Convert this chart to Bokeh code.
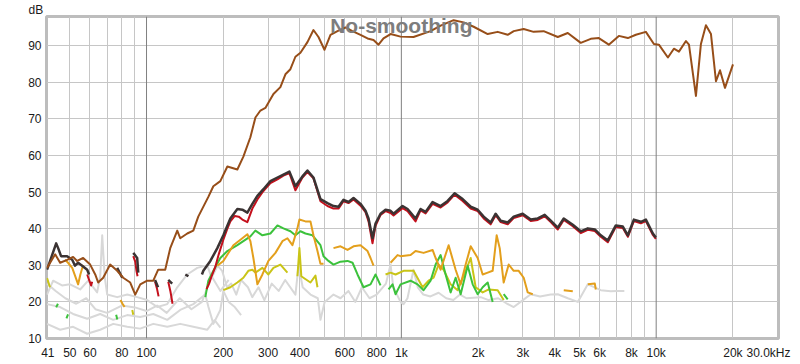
from bokeh.plotting import figure
from bokeh.models import FixedTicker, Span, Label
from bokeh.embed import file_html
from bokeh.resources import INLINE

nan = float("nan")

# ---- tick labels ----
x_ticks = [41, 50, 60, 80, 100, 200, 300, 400, 600, 800, 1000, 2000, 3000, 4000,
           5000, 6000, 8000, 10000, 20000, 30000]
x_tick_labels = ["41", "50", "60", "80", "100", "200", "300", "400", "600", "800", "1k",
                 "2k", "3k", "4k", "5k", "6k", "8k", "10k", "20k", "30.0kHz"]
x_grid = [50, 60, 70, 80, 90, 200, 300, 400, 500, 600, 700, 800, 900, 2000, 3000, 4000,
          5000, 6000, 7000, 8000, 9000, 20000]
x_decades = [100, 1000, 10000]
y_ticks = [10, 20, 30, 40, 50, 60, 70, 80, 90]

# ---- series: (frequency Hz, level dB) ----
fundamental = [
    (40.7, 29.3), (43.8, 33), (45.8, 30.7), (48.8, 31.5), (51.5, 32.3), (53.4, 31.2), (56.4, 32),
    (60.1, 30.2), (62.9, 27.5), (64.6, 25.3), (67.6, 26.6), (72.0, 30.2), (76.7, 28.5), (81.0, 26.6),
    (86.3, 25.3), (90.3, 22), (94.5, 24.8), (100.6, 25.8), (106.3, 25.8), (111.1, 28.8), (118.4, 28.8),
    (123.9, 34.7), (132, 39.5), (135.6, 37.4), (144.5, 38.7), (152.6, 39.5), (159.6, 43.3), (174.8, 48.7),
    (182.9, 51.6), (194.8, 53), (207.6, 57), (227.2, 56.2), (239.9, 59.7), (255.6, 65), (267.5, 70.4),
    (279.9, 72.3), (292.7, 73), (314.8, 76.8), (335.2, 78.7), (350.8, 82.2), (366.9, 83.6), (383.9, 87),
    (401.8, 88.1), (428, 91), (451.9, 94.3), (472.9, 92.4), (499.2, 88.9), (527.1, 93), (561.4, 94),
    (603.6, 95), (642.7, 94), (691.3, 93), (736.7, 92), (777.6, 91.6), (813.6, 90.3), (851.1, 92),
    (907, 93.2), (992.6, 92.5), (1116, 92.4), (1302, 94), (1426, 95.5), (1604, 97), (1756, 96.4),
    (1922, 95.2), (2182, 93.2), (2388, 93.8), (2614, 93), (2761, 94), (3020, 94.6), (3304, 93.8),
    (3617, 94), (4110, 92.4), (4498, 93.5), (5058, 90.8), (5538, 91.9), (5956, 92.1), (6518, 90.3),
    (7136, 92.7), (7742, 92.1), (8322, 93), (9111, 93.8), (9795, 90.5), (10247, 90.3), (11117, 86.8),
    (11735, 89.2), (12283, 88.4), (13087, 91.3), (13448, 90.3), (14322, 76.3), (14983, 90.5),
    (15676, 95.6), (16406, 93.2), (17164, 80.3), (17801, 83.3), (18621, 78.5), (19306, 81.7), (20016, 84.9),
]

thd = [
    (40.7, 28.8), (42.6, 32.8), (44.2, 36), (45.0, 34.7), (46.2, 32.5), (48.8, 32.5), (51.1, 31.5),
    (52.4, 29.9), (53.9, 30.7), (55.9, 29.9), (58.5, 28.8), (59.5, 27.5), (65, nan), (76.7, 29.3),
    (80.3, 26.6), (84, nan), (88.7, 33.4), (91.9, 32), (92.8, 28), (100, nan), (108, 26), (111, 24),
    (115, nan), (121.7, 26), (126.1, 25), (135, nan), (142, 27.5), (146, 27), (155, nan), (165, 27.5),
    (167.1, 28.5), (178, 31.2), (189.6, 34.7), (200.2, 38.2), (213.3, 42.8), (227.2, 45.4), (237.7, 45.2),
    (248.7, 44.4), (260.2, 46.8), (272.3, 49), (287.5, 50.8), (306.3, 53), (326.4, 54), (344.5, 54.8),
    (363.7, 55.6), (384, 51.6), (409.1, 54.3), (428, 55.9), (451.9, 54), (481.5, 48.1), (512.9, 47),
    (541.6, 46.2), (566.6, 46), (592.9, 47.9), (620.4, 47.3), (649.1, 48.4), (691.4, 46.8), (723.4, 44.9),
    (743.4, 42.8), (770.6, 37.4), (791.8, 41.4), (828.5, 44.1), (866.8, 45.2), (907, 44.9), (932, 44.1),
    (1010.9, 46.2), (1057.7, 45.4), (1137, 42.8), (1189.5, 45.4), (1244.6, 44.6), (1326.1, 47.3),
    (1425.6, 46.2), (1519, 47.6), (1618, 49.7), (1740, 48.1), (1871, 46), (1993, 45.2), (2104, 43.3),
    (2241, 41.7), (2345, 44.1), (2454, 42.2), (2614, 41.7), (2760, 43.3), (2994, 44.1), (3219, 42.5),
    (3429, 42.8), (3652, 43.8), (3857, 42.2), (4110, 40.3), (4338, 42.8), (4707, 41.1), (5058, 39.3),
    (5391, 40.1), (5743, 39.8), (6063, 38.2), (6459, 36.8), (6945, 40.9), (7399, 40.6), (7742, 38.2),
    (8172, 42.5), (8709, 41.9), (9111, 42.5), (9705, 38.7), (9972, 37.6),
]

h2 = [
    (58.5, 27.5), (59.5, 26), (60.6, 24.5), (61.2, 25.5), (70, nan), (88.7, 32.5), (90.3, 31),
    (91.3, 28.5), (92.2, 27), (100, nan), (108, 25.5), (110, 23.5), (111.5, 21.5), (116, nan),
    (121.7, 25.5), (124, 23), (126.5, 19.5), (150, nan), (172, 23.5), (176, 25), (180, 27), (186, 29.5),
    (192, 33), (200.2, 37), (207.6, 40), (213.3, 42), (222, 43.5), (230, 43.3), (237.7, 42.5),
    (248.7, 41.8), (260.2, 45.5), (272.3, 48), (287.5, 50.3), (306.3, 52.5), (326.4, 53.5), (344.5, 54.5),
    (363.7, 55.2), (384, 50.5), (409.1, 54), (428, 55.5), (451.9, 53.8), (481.5, 47.5), (512.9, 46.2),
    (541.6, 45.5), (566.6, 45.5), (592.9, 47.5), (620.4, 47), (649.1, 48), (691.4, 46.3), (723.4, 44.5),
    (743.4, 42), (770.6, 36), (791.8, 40.8), (828.5, 43.8), (866.8, 44.8), (907, 44.3), (932, 43.6),
    (1010.9, 45.6), (1057.7, 44.8), (1137, 42), (1189.5, 45), (1244.6, 44.2), (1326.1, 46.8),
    (1425.6, 45.8), (1519, 47.2), (1618, 49.3), (1740, 47.6), (1871, 45.5), (1993, 44.8), (2104, 42.8),
    (2241, 41.2), (2345, 43.7), (2454, 41.8), (2614, 41.2), (2760, 42.9), (2994, 43.7), (3219, 42.1),
    (3429, 42.4), (3652, 43.4), (3857, 41.8), (4110, 39.8), (4338, 42.4), (4707, 40.7), (5058, 38.8),
    (5391, 39.7), (5743, 39.4), (6063, 37.8), (6459, 36.3), (6945, 40.5), (7399, 40.2), (7742, 37.8),
    (8172, 42.1), (8709, 41.5), (9111, 42.1), (9705, 38.3), (9972, 37.2),
]

h3 = [
    (47.9, 31.5), (49.2, 30.7), (51.1, 29.3), (52.4, 27.2), (53.9, 24.8), (55.0, 27.5), (56.4, 30.1),
    (60, nan), (79, 20.5), (80.5, 19.5), (82, 18.6), (85, nan), (189.6, 29.9), (200.2, 31.2),
    (219.2, 35.5), (237.7, 37.4), (248.7, 38.5), (255.6, 36.6), (262.6, 32), (272.3, 24.8), (284.9, 27.5),
    (300.8, 31.2), (320.5, 33.4), (341.4, 36.6), (357.2, 37.4), (373.7, 35.5), (391, 40.1), (398.1, 42.5),
    (420.3, 42), (439.8, 42), (451.9, 38.2), (468.6, 33.9), (481.5, 30.4), (494.8, 30.4), (520, nan),
    (541.6, 34.7), (577, 35.2), (614.8, 34.2), (649.1, 35.2), (691.4, 35.5), (736.7, 33.9), (756.8, 32),
    (777.7, 29.9), (850, nan), (907, 30.7), (966.1, 32.8), (992.6, 32.5), (1086.8, 32.8), (1137, 33.9),
    (1222.3, 33.4), (1326.1, 34.2), (1362.6, 32), (1425.6, 28.8), (1533, 35.5), (1633, 28.8), (1709, 24.8),
    (1788, 30.2), (1871, 35.2), (1993, 32), (2085, 27.5), (2182, 28), (2282, 28.5), (2366, 38.2),
    (2432, 34.7), (2521, 25.3), (2638, 30.2), (2760, 28.5), (2887, 28.5), (3021, 26.6), (3133, 22.6),
    (3278, 22.1), (3800, nan), (4338, 23.2), (4707, 22.9), (5000, nan), (5391, 24.8), (5743, 25), (5796, 23.4),
]

h4 = [
    (44.2, 18.5), (44.9, 19.5), (46, nan), (48.5, 15.5), (49.2, 16.6), (52, nan), (76, 16.5), (76.8, 15.2),
    (150, nan), (170.1, 21.3), (174.8, 25.8), (182.9, 28.5), (194.8, 32), (207.6, 33.9), (227.2, 35.5),
    (239.9, 36.6), (255.6, 37.9), (267.4, 39.5), (284.9, 38.2), (306.3, 38.7), (326.4, 40.9), (344.5, 40.1),
    (367, 39.3), (384, 38.2), (401.8, 39.3), (420.3, 38.7), (447.9, 38.2), (481.5, 35.5), (494.8, 32.5),
    (517.6, 31.2), (541.6, 30.2), (577, 31), (614.8, 31.2), (643.3, 30.7), (672.9, 27.5), (710.4, 24),
    (756.8, 24.8), (791.8, 27.5), (828.5, 24.5), (860, nan), (890.6, 23.4), (923.6, 24.8), (949, 22.1),
    (992.6, 24.8), (1086.8, 25.8), (1157.7, 24.8), (1222.3, 23.2), (1302.2, 25.8), (1362.6, 30.2),
    (1425.6, 32.8), (1491.8, 27.5), (1561, 22.6), (1633, 26.6), (1709, 22.1), (1821, 29.9), (1905, 24.8),
    (1993, 22.1), (2085, 24), (2182, 25.3), (2282, 20), (2400, nan), (2521, 22.1), (2614, 20.7),
]

h5 = [
    (40.7, 26.5), (41.8, 24), (43, nan), (87.9, 17.8), (88.7, 16.5), (120, nan), (200.2, 23.2),
    (213.3, 24), (227.2, 25.3), (239.9, 26.6), (250.9, 28.5), (260.2, 28.8), (267.4, 28), (284.9, 29.3),
    (300.8, 27.5), (314.7, 29.3), (335.3, 30.2), (357.2, 28), (375, nan), (391, 27), (398.1, 34.7),
    (405, 27), (412.8, 26.6), (439.8, 25.3), (460.2, 27.2), (468.6, 24), (600, nan), (866.8, 27.5),
    (907, 28), (949, 27.5), (1020, 28.5), (1116.7, 28.5), (1211.3, 24), (1278.9, 25.8), (1338, 26.6),
    (1400.2, 30.2), (1464.9, 28.8), (1561, 24.8), (1663, 23.2), (1788, 28.5), (1871, 32), (1957, 24),
    (2085, 22.6), (2202, 23.4), (2388, 23.2), (2521, 20.5),
]

noise_a = [
    (40.7, 22), (43, 25.8), (46.6, 24.5), (50.1, 24.8), (54.9, 23.4), (59, 25.8), (64, 22.6), (65.8, 27),
    (67, 38.2), (68.5, 27), (70.1, 22), (76.7, 21.3), (84, 22), (91.9, 21.3), (100.6, 20.5), (110.2, 18.6),
    (120.6, 19.4), (132, 24), (144.5, 27.5), (158.2, 29.3), (173.2, 30), (180, 26.6), (190, 29.9),
    (198, 28.5), (207, 24), (215, 25), (225, 22), (235, 26), (250, 24), (260, 21.3), (275, 24),
    (290, 20.5), (310, 25), (330, 23), (350, 26), (384, 22), (395, 30), (410, 24), (440, 22), (470, 21),
    (481.5, 15.1), (500, 20), (541.6, 22), (577, 21), (620, 23), (660, 20), (700, 24), (750, 21),
    (800, 22), (870, 25), (907, 30.2), (930, 24), (992.6, 20), (1020, 19.4), (1057, 21), (1116, 28.8),
    (1160, 24), (1220, 22), (1300, 21.5), (1400, 22.5), (1500, 21), (1600, 20.5), (1700, 22), (1800, 21),
    (2048, 21.3), (2200, 20.5), (2400, 21), (2600, 19.5), (2760, 18.6), (3000, 20.5), (3219, 22.1),
    (3500, 21.5), (3857, 22), (4110, 22.1), (4500, 21), (4925, 20), (5391, 24.8), (6063, 23.2),
    (6637, 22.9), (7000, 23), (7500, 23),
]

noise_b = [
    (40.7, 19.4), (45.8, 18.6), (51.5, 16.7), (58.5, 15.4), (65.8, 16.7), (74, 15.1), (84, 16.4),
    (94.4, 15.9), (106.3, 16.7), (120.6, 15.1), (135.6, 17.8), (152.6, 19.4), (170, 22), (175, 18.6),
    (182.9, 14), (194.8, 17.8), (200.2, 23), (210, 20), (222, 18.6), (235, 16.4),
]

noise_c = [
    (40.7, 14), (45.8, 12.4), (51.5, 13.2), (58.5, 11.3), (65.8, 12.4), (74, 14), (84, 13.2),
    (94.4, 12.7), (106.3, 14), (120.6, 13.2), (135.6, 14), (152.6, 13.2), (173.2, 12.4), (185, 15),
    (195, 13),
]

noise_d = [
    (40.7, 25), (44, 23), (48, 21), (53, 19.5), (58, 21), (63, 18), (70, 17), (80, 19), (90, 18.5),
    (100, 17.5), (110, 19), (120, 17), (135, 21), (150, 18), (165, 20), (180, 27), (195, 23), (210, 26),
]

# ---- figure ----
FONT = "Liberation Sans"
p = figure(width=800, height=362, x_axis_type="log", x_range=(40.5, 30200), y_range=(10, 98),
           output_backend="svg", toolbar_location=None, title="dB",
           min_border_left=46, min_border_right=22, min_border_top=14, min_border_bottom=22)
p.background_fill_color = "white"
p.border_fill_color = "white"
p.outline_line_color = "#bdbdbd"
p.outline_line_width = 3

p.title.align = "left"
p.title.offset = -18
p.title.standoff = 0
p.title.text_font = FONT
p.title.text_font_size = "12px"
p.title.text_font_style = "normal"
p.title.text_color = "#1a1a1a"

NB = "\u00a0"
xa = p.xaxis[0]
xa.ticker = FixedTicker(ticks=x_ticks)
overrides = {t: l for t, l in zip(x_ticks, x_tick_labels)}
overrides[30000] = overrides[30000] + NB * 3
xa.major_label_overrides = overrides
xa.axis_line_color = None
xa.major_tick_line_color = None
xa.minor_tick_line_color = None
xa.major_tick_out = 0
xa.major_tick_in = 0
xa.major_label_standoff = 7
xa.major_label_text_font = FONT
xa.major_label_text_font_size = "12px"
xa.major_label_text_color = "#1a1a1a"

ya = p.yaxis[0]
ya.ticker = FixedTicker(ticks=y_ticks)
ya.axis_line_color = None
ya.major_tick_line_color = None
ya.minor_tick_line_color = None
ya.major_tick_out = 0
ya.major_tick_in = 0
ya.major_label_standoff = 5
ya.major_label_text_font = FONT
ya.major_label_text_font_size = "12px"
ya.major_label_text_color = "#1a1a1a"

p.xgrid.ticker = FixedTicker(ticks=x_grid)
p.xgrid.grid_line_color = "#c6c6c6"
p.ygrid.ticker = FixedTicker(ticks=y_ticks)
p.ygrid.grid_line_color = "#c6c6c6"

for d in x_decades:
    p.add_layout(Span(location=d, dimension="height", line_color="#808080", line_width=1,
                      level="underlay"))


def draw(series, color, width):
    xs = [f for f, _ in series]
    ys = [v for _, v in series]
    p.line(xs, ys, line_color=color, line_width=width, line_join="round")


for s in (noise_c, noise_b, noise_d, noise_a):
    draw(s, "#d8d8d8", 2)
draw(h5, "#c9c417", 2)
draw(h4, "#3cc23c", 2)
draw(h3, "#e39f1c", 2)
draw(h2, "#c4101c", 2)
draw(thd, "#3b3333", 2.5)
draw(fundamental, "#974e19", 2)

p.add_layout(Label(x=1000, y=98, y_offset=3, text="No-smoothing", text_align="center",
                   text_baseline="top", text_font=FONT, text_font_size="21px",
                   text_font_style="bold", text_color="#7d7d7d"))

open("out.html", "w").write(file_html(p, INLINE))
